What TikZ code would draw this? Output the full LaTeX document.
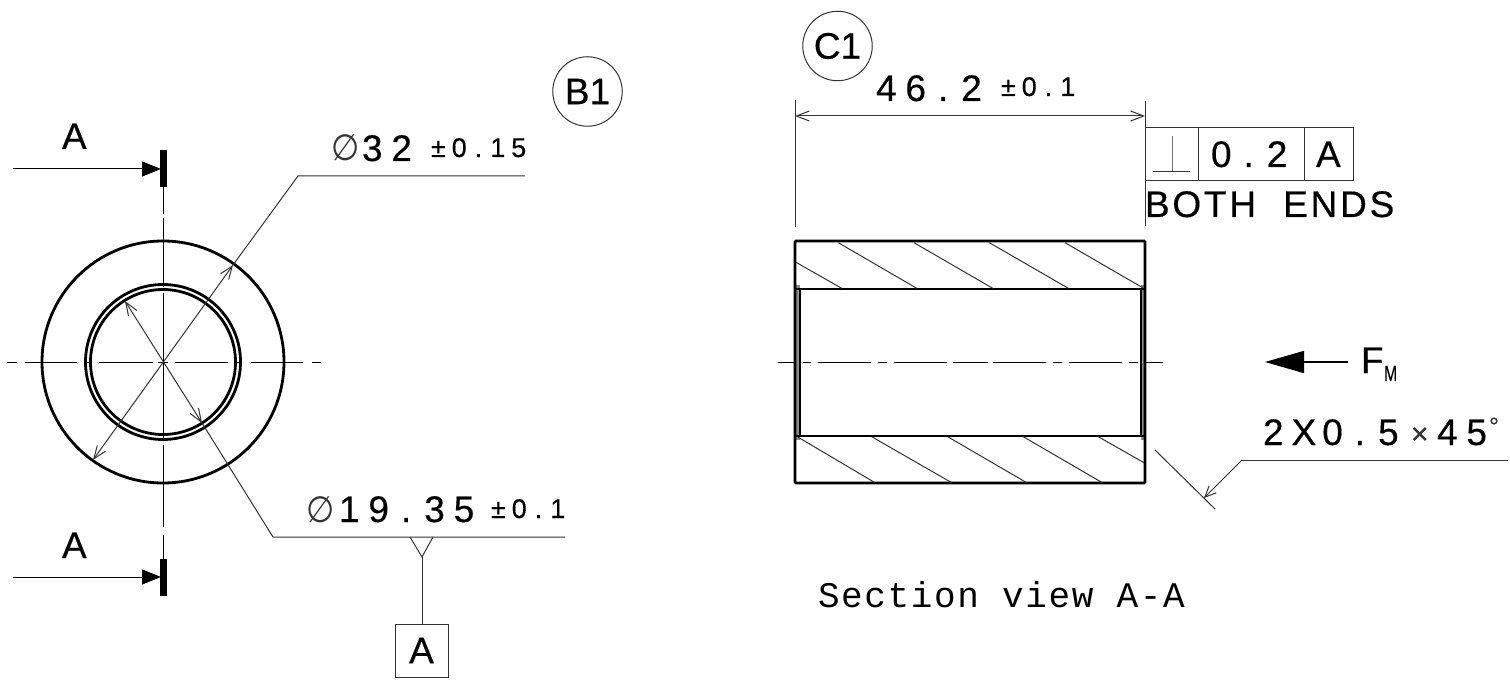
\documentclass[tikz,border=0pt]{standalone}
\usepackage{fontspec}
\setmainfont{Liberation Sans}
\newfontfamily\trk[LetterSpace=24,FakeBold=0.4]{Liberation Sans}
\newfontfamily\trks[LetterSpace=22,FakeBold=0.4]{Liberation Sans}
\newfontfamily\trkb[LetterSpace=7.5,FakeBold=0.4]{Liberation Sans}
\newfontfamily\plainf[FakeBold=0.4]{Liberation Sans}
\newfontfamily\monof[LetterSpace=4.5]{Liberation Mono}
\newfontfamily\symf{DejaVu Sans}
\usetikzlibrary{arrows.meta}
\newcommand\bigf{\fontsize{37}{37}\selectfont}
\newcommand\smf{\fontsize{27}{27}\selectfont}
\newcommand\dotb{\kern12pt .\kern13pt }
\newcommand\dotsmall{\kern8pt .\kern8pt }
\definecolor{thinc}{HTML}{333333}
\tikzset{
  thick line/.style={line width=2.8pt,black},
  thin line/.style={line width=1pt,thinc},
  centre/.style={line width=1pt,black},
  hatch/.style={line width=1pt,thinc},
  bar/.style={line width=7.5pt,black},
  veearrow/.style={thin line,-{Straight Barb[length=11pt,width=10pt,line width=1pt]}},
  bothvee/.style={thin line,{Straight Barb[length=13pt,width=10pt,line width=1pt]}-{Straight Barb[length=13pt,width=10pt,line width=1pt]}},
  filled/.style={line width=1pt,black,-{Triangle[length=19pt,width=15pt]}},
  label/.style={inner sep=0pt,outer sep=0pt,anchor=base west,text=black},
  bubble/.style={circle,draw=thinc,line width=1pt,minimum size=69.5pt,inner sep=0pt,font=\plainf\bigf},
  cell/.style={draw=thinc,line width=1pt,inner sep=0pt,font=\plainf\bigf},
  phisym/.style={inner sep=0pt,outer sep=0pt,anchor=base west,text=thinc,font=\symf\fontsize{27}{27}\selectfont},
}
\begin{document}
\begin{tikzpicture}[x=1pt,y=-1pt]
\useasboundingbox (0,0) rectangle (1510,687);
% --- left view ---
\coordinate (ctr) at (163,362);
\draw[thick line] (ctr) circle[radius=121];
\draw[thick line] (ctr) circle[radius=77.5];
\draw[thick line] (ctr) circle[radius=72.5];
\foreach \a/\b in {7/17,25/77,85/91,99/153,158/168,175/228,234/241,251/303,312/321}
  \draw[centre] (\a,362) -- (\b,362);
\foreach \a/\b in {187/214,218/287,293/440,445/527,535/559}
  \draw[centre] (163,\a) -- (163,\b);
% section arrows
\coordinate (tl) at (13,169); \coordinate (tb1) at (163.7,150); \coordinate (tb2) at (163.7,187);
\coordinate (bl) at (13,577); \coordinate (bb1) at (163.7,559); \coordinate (bb2) at (163.7,596);
\draw[bar] (tb1) -- (tb2);
\draw[bar] (bb1) -- (bb2);
\coordinate (tt) at (161,169); \coordinate (bt) at (161,577);
\draw[filled] (tl) -- (tt);
\draw[filled] (bl) -- (bt);
\node[label,font=\plainf\bigf] (secA1) at (62,149) {A};
\node[label,font=\plainf\bigf] (secA2) at (62,558) {A};
% diameter 32
\coordinate (d1a) at (233,265); \coordinate (d1b) at (93,460); \coordinate (d1k) at (298,176); \coordinate (d1e) at (525,176);
\draw[bothvee] (d1b) -- (d1a);
\draw[thin line] (d1a) -- (d1k) -- (d1e);
\node[phisym] (phi1) at (331,161) {\scalebox{1.2}[1.35]{∅}};
\node[label,font=\trk\bigf] (dim32) at (362,161) {32};
\node[label,font=\trks\smf] (tol32) at (431,157) {±0\dotsmall 15};
% diameter 19.35
\coordinate (d2a) at (125,301); \coordinate (d2b) at (202,423); \coordinate (d2k) at (273,537); \coordinate (d2e) at (565,537);
\draw[bothvee] (d2a) -- (d2b);
\draw[thin line] (d2b) -- (d2k) -- (d2e);
\node[phisym] (phi2) at (306,522) {\scalebox{1.2}[1.35]{∅}};
\node[label,font=\trk\bigf] (dim19) at (339,522) {19\dotb 35};
\node[label,font=\trks\smf] (tol19) at (491,518) {±0\dotsmall 1};
% datum
\coordinate (dtl) at (410,537); \coordinate (dtr) at (433,537); \coordinate (dta) at (422,557);
\draw[thin line] (dtl) -- (dta) -- (dtr);
\node[cell,minimum width=53pt,minimum height=53pt] (datum) at (421.5,650.5) {A};
\draw[thin line] (dta) -- (datum.north -| dta);
% bubbles
\node[bubble] (bB) at (587.5,91.5) {B1};
\node[bubble] (bC) at (837.5,46) {C1};
% --- section view ---
\fill[black!45] (795,285) rectangle (800,440);
\fill[black!45] (1141,285) rectangle (1145,440);
\draw[thick line,rounded corners=1pt] (795,241) rectangle (1145,483);
\draw[thick line] (795,289) -- (1145,289);
\draw[thick line] (795,436) -- (1145,436);
\draw[line width=1.8pt,black] (800,289) -- (800,436);
\draw[line width=1.8pt,black] (1141,289) -- (1141,436);
\foreach \a/\b/\c/\d in {796/262.3/841.7/288.3, 838.3/242.7/916.7/288.3, 914/242.7/992.7/288.3, 989.3/242.7/1068.3/288.3, 1065/242.7/1142.7/287.7,
  798.3/437.3/875/482.7, 871.7/436.7/951.7/482.7, 947.7/436.7/1026.7/482.7, 1023.3/436.7/1102.3/482.7, 1098.3/436.7/1144/462.7}
  \draw[hatch] (\a,\b) -- (\c,\d);
\foreach \a/\b in {778/795,803/811,818/871,878/887,894/947,953/988,993/1046,1053/1062,1069/1122,1129/1138,1146/1163}
  \draw[centre] (\a,362) -- (\b,362);
% dimension 46.2
\coordinate (e1a) at (795,100); \coordinate (e1b) at (795,227);
\coordinate (e2a) at (1145,101); \coordinate (e2b) at (1145,127.5);
\coordinate (e3a) at (1145,180); \coordinate (e3b) at (1145,226);
\draw[thin line] (e1a) -- (e1b);
\draw[thin line] (e2a) -- (e2b);
\draw[thin line] (e3a) -- (e3b);
\coordinate (da) at (795,116); \coordinate (db) at (1145,116);
\draw[bothvee] (da) -- (db);
\node[label,font=\trk\bigf] (dim46) at (876,101) {46\dotb 2};
\node[label,font=\trks\smf] (tol46) at (1001,96) {±0\dotsmall 1};
% control frame
\node[cell,minimum width=53pt,minimum height=52.5pt] (fsym) at (1171.5,154) {};
\node[cell,minimum width=106pt,minimum height=52.5pt] (fval) at (1251,154) {};
\node[cell,minimum width=49pt,minimum height=52.5pt] (fdat) at (1328.5,154) {};
\coordinate (pt) at (1172,136); \coordinate (pb) at (1172,172); \coordinate (pl) at (1153,172); \coordinate (pr) at (1190,172);
\draw[thin line,draw=black!55] (pt) -- (pb);
\draw[thin line] (pl) -- (pr);
\node[label,font=\trk\bigf] (v02) at (1211,167) {0\dotb 2};
\node[label,font=\plainf\bigf] (vA) at (1316,167) {A};
\node[label,font=\trkb\bigf] (both) at (1145,217) {BOTH\kern14pt{} ENDS};
% force
\coordinate (fs) at (1348,362); \coordinate (ft) at (1265,362);
\draw[line width=1.4pt,black,-{Triangle[length=39pt,width=22pt]}] (fs) -- (ft);
\node[label,font=\plainf\bigf] (fF) at (1361,373) {F};
\node[label,font=\plainf\fontsize{22}{22}\selectfont] (fM) at (1384,381) {\scalebox{0.72}[1]{M}};
% chamfer
\coordinate (cha) at (1155,450); \coordinate (chb) at (1215,509);
\draw[thin line] (cha) -- (chb);
\coordinate (lk) at (1242,460); \coordinate (le) at (1508,460); \coordinate (lt) at (1204,498);
\draw[veearrow] (lk) -- (lt);
\draw[thin line] (lk) -- (le);
\node[label,font=\trk\bigf] (cham) at (1263,445) {2\kern8pt X\kern6pt 0\dotb 5};
\node[label,font=\plainf\fontsize{30}{30}\selectfont,text=thinc] (chx) at (1411,444) {×};
\node[label,font=\trk\bigf] (cham2) at (1437,445) {45};
\node[label,font=\plainf\fontsize{25}{25}\selectfont,text=thinc] (chd) at (1489,435) {°};
% caption
\node[label,font=\monof\fontsize{36}{36}\selectfont] (cap) at (818,607) {Section view A-A};
\end{tikzpicture}
\end{document}
